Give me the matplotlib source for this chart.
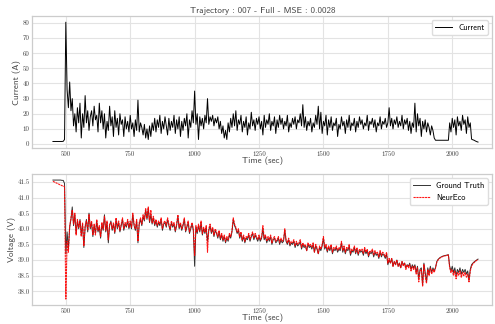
import numpy as np
import matplotlib
matplotlib.use('Agg')
import matplotlib.pyplot as plt

# time axis (sec), one sample every 5 s
time = np.arange(450, 2101, 5)

# battery current (A)
current = [
    1.7, 1.7, 1.7, 1.7, 1.7, 1.7, 1.7, 1.7, 1.8, 3.0, 80.5, 36, 24, 41, 22, 30, 12, 20, 8, 24,
    14, 27, 4, 20, 11, 32, 14, 22, 9, 18, 22, 12, 25, 16, 19, 8, 27, 14, 22, 10,
    20, 4, 15, 9, 25, 12, 18, 5, 22, 11, 17, 6, 20, 13, 16, 5, 18, 10, 15, 8,
    19, 10, 14, 5, 16, 9, 29, 8, 14, 11, 6, 13, 4, 10, 3, 12, 5, 14, 9, 17,
    8, 16, 11, 19, 7, 15, 10, 18, 12, 6, 17, 9, 15, 11, 19, 7, 16, 10, 18, 5,
    15, 9, 17, 12, 20, 4, 16, 11, 22, 14, 35, 13, 20, 3, 18, 12, 17, 10, 19, 14,
    30, 13, 18, 15, 19, 12, 17, 14, 18, 10, 15, 7, 12, 4, 9, 3, 14, 8, 17, 11,
    20, 12, 22, 9, 16, 13, 19, 8, 15, 11, 18, 6, 14, 10, 21, 12, 16, 9, 17, 13,
    18, 10, 15, 6, 19, 11, 16, 13, 20, 9, 15, 12, 18, 7, 16, 11, 19, 13, 17, 10,
    15, 12, 19, 8, 14, 11, 17, 13, 18, 10, 16, 14, 20, 12, 26, 11, 18, 9, 15, 12,
    17, 8, 14, 11, 19, 13, 25, 10, 21, 7, 15, 12, 19, 6, 16, 11, 18, 9, 14, 12,
    17, 5, 13, 10, 18, 12, 15, 7, 16, 11, 19, 9, 14, 12, 17, 8, 15, 11, 18, 13,
    16, 10, 14, 12, 19, 9, 15, 13, 17, 11, 16, 8, 14, 12, 18, 10, 15, 13, 17, 11,
    14, 24, 12, 17, 10, 16, 13, 18, 11, 15, 12, 19, 10, 16, 13, 17, 9, 15, 7, 14,
    11, 27, 8, 20, 12, 17, 5, 15, 10, 16, 8, 14, 11, 6, 12, 9, 4, 2.5, 2.5, 2.5,
    2.5, 2.5, 2.5, 2.5, 2.5, 2.5, 2.5, 2.5, 14, 8, 17, 11, 16, 6, 18, 12, 15, 9, 19, 13,
    16, 7, 18, 11, 14, 3.2, 2.8, 2.5, 2.0, 1.6, 1.3,
]

# measured voltage (V)
ground_truth = [
    41.56, 41.56, 41.56, 41.56, 41.56, 41.56, 41.56, 41.55, 41.55, 41.45, 39.2, 39.9, 39.35, 40.05, 40.3, 40.7, 40.1, 40.45, 39.85, 40.25,
    40.0, 40.3, 39.8, 40.15, 39.4, 40.05, 40.3, 39.9, 40.5, 40.0, 40.2, 39.75, 40.1, 39.85, 40.25, 39.9, 40.05, 39.7, 40.15, 39.95,
    40.45, 39.9, 40.2, 39.55, 40.1, 40.25, 39.95, 40.15, 39.85, 40.3, 40.0, 40.2, 39.9, 40.1, 40.3, 39.95, 40.15, 40.05, 40.25, 40.0,
    40.2, 40.0, 40.45, 40.1, 39.95, 40.25, 39.55, 40.15, 40.3, 40.1, 40.4, 40.25, 40.6, 40.3, 40.65, 40.2, 40.45, 40.15, 40.35, 40.1,
    40.25, 40.05, 40.2, 40.1, 40.3, 39.95, 40.15, 40.2, 40.05, 40.3, 40.1, 39.95, 40.2, 40.05, 40.15, 39.9, 40.1, 40.4, 40.0, 40.15,
    39.95, 40.1, 40.3, 39.9, 40.05, 40.2, 39.85, 40.0, 40.15, 39.95, 38.8, 40.05, 39.85, 40.1, 39.9, 40.2, 39.8, 40.0, 39.85, 40.05,
    39.6, 39.95, 40.1, 39.85, 40.0, 39.75, 39.95, 39.85, 39.7, 39.9, 39.65, 39.8, 39.6, 39.75, 39.55, 39.7, 39.6, 39.8, 39.7, 39.9,
    40.3, 40.1, 40.0, 39.85, 39.95, 39.7, 39.85, 39.6, 39.75, 39.55, 39.7, 39.65, 39.8, 39.6, 39.75, 39.85, 39.65, 39.8, 39.7, 39.6,
    39.75, 39.6, 39.7, 40.0, 39.65, 39.75, 39.55, 39.7, 39.6, 39.75, 39.5, 39.65, 39.7, 39.55, 39.6, 39.7, 39.5, 39.65, 39.55, 39.6,
    39.95, 39.6, 39.5, 39.65, 39.45, 39.55, 39.5, 39.6, 39.4, 39.55, 39.45, 39.5, 39.6, 39.35, 39.5, 39.4, 39.45, 39.3, 39.5, 39.4,
    39.45, 39.35, 39.5, 39.25, 39.45, 39.35, 39.2, 39.4, 39.3, 39.45, 39.7, 39.35, 39.45, 39.25, 39.4, 39.3, 39.45, 39.2, 39.35, 39.3,
    39.4, 39.25, 39.35, 39.3, 39.55, 39.25, 39.4, 39.2, 39.35, 39.3, 39.45, 39.15, 39.3, 39.25, 39.4, 39.2, 39.35, 39.15, 39.3, 39.25,
    39.3, 39.15, 39.35, 39.2, 39.3, 39.1, 39.25, 39.2, 39.3, 39.1, 39.25, 39.15, 39.2, 39.05, 39.25, 39.1, 39.2, 39.15, 39.05, 39.2,
    38.85, 39.0, 38.9, 39.05, 38.8, 38.95, 38.85, 39.0, 38.8, 38.9, 38.75, 38.95, 38.85, 38.9, 38.75, 38.85, 38.8, 38.9, 38.7, 38.85,
    38.75, 38.85, 38.6, 38.8, 38.4, 38.7, 38.75, 38.2, 38.9, 38.6, 38.3, 38.75, 38.55, 38.8, 38.6, 38.75, 38.65, 38.75, 38.95, 39.02,
    39.06, 39.09, 39.11, 39.13, 39.14, 39.15, 39.16, 39.17, 38.8, 38.65, 38.8, 38.6, 38.75, 38.5, 38.7, 38.6, 38.75, 38.55, 38.7, 38.6,
    38.7, 38.55, 38.65, 38.35, 38.7, 38.85, 38.9, 38.94, 38.97, 39.0, 39.03,
]

# model prediction (V)
neureco = [
    41.52, 41.50, 41.48, 41.46, 41.44, 41.42, 41.40, 41.38, 41.37, 41.35, 37.75, 39.6, 39.25, 40.1, 40.35, 40.6, 40.15, 40.5, 39.8, 40.3,
    40.05, 40.25, 39.75, 40.2, 39.45, 40.1, 40.25, 39.95, 40.45, 40.05, 40.25, 39.8, 40.15, 39.8, 40.3, 39.95, 40.1, 39.75, 40.2, 40.0,
    40.4, 39.95, 40.25, 39.65, 40.15, 40.2, 40.0, 40.2, 39.9, 40.35, 40.05, 40.25, 39.95, 40.15, 40.35, 40.0, 40.2, 40.1, 40.3, 40.05,
    40.25, 40.05, 40.5, 40.15, 40.0, 40.3, 39.6, 40.2, 40.35, 40.15, 40.45, 40.3, 40.65, 40.35, 40.7, 40.25, 40.6, 40.2, 40.4, 40.15,
    40.3, 40.1, 40.25, 40.15, 40.35, 40.0, 40.2, 40.25, 40.1, 40.35, 40.15, 40.0, 40.25, 40.1, 40.2, 39.95, 40.15, 40.45, 40.05, 40.2,
    40.0, 40.15, 40.35, 39.95, 40.1, 40.25, 39.9, 40.05, 40.2, 40.0, 39.15, 40.1, 39.9, 40.15, 39.95, 40.25, 39.85, 40.05, 39.9, 40.1,
    39.25, 40.0, 40.15, 39.9, 40.05, 39.8, 40.0, 39.9, 39.75, 39.95, 39.7, 39.85, 39.65, 39.8, 39.6, 39.75, 39.65, 39.85, 39.75, 39.95,
    40.35, 40.15, 40.05, 39.9, 40.0, 39.75, 39.9, 39.65, 39.8, 39.6, 39.75, 39.7, 39.85, 39.65, 39.8, 39.9, 39.7, 39.85, 39.75, 39.65,
    39.8, 39.65, 39.75, 40.1, 39.7, 39.8, 39.6, 39.75, 39.65, 39.8, 39.55, 39.7, 39.75, 39.6, 39.65, 39.75, 39.55, 39.7, 39.6, 39.65,
    40.0, 39.65, 39.55, 39.7, 39.5, 39.6, 39.55, 39.65, 39.45, 39.6, 39.5, 39.55, 39.65, 39.4, 39.55, 39.45, 39.5, 39.3, 39.55, 39.45,
    39.5, 39.4, 39.55, 39.25, 39.5, 39.4, 39.2, 39.45, 39.35, 39.5, 39.75, 39.4, 39.5, 39.3, 39.45, 39.35, 39.5, 39.25, 39.4, 39.35,
    39.45, 39.3, 39.4, 39.35, 39.6, 39.3, 39.45, 39.25, 39.4, 39.35, 39.5, 39.2, 39.35, 39.3, 39.45, 39.25, 39.4, 39.2, 39.35, 39.3,
    39.35, 39.2, 39.4, 39.25, 39.35, 39.15, 39.3, 39.25, 39.35, 39.15, 39.3, 39.2, 39.25, 39.1, 39.3, 39.15, 39.25, 39.2, 39.1, 39.25,
    38.9, 39.05, 38.9, 39.05, 38.8, 38.95, 38.85, 39.0, 38.8, 38.9, 38.75, 38.95, 38.8, 38.9, 38.7, 38.85, 38.75, 38.85, 38.65, 38.8,
    38.7, 38.8, 38.55, 38.75, 38.3, 38.65, 38.7, 38.15, 38.85, 38.5, 38.25, 38.7, 38.5, 38.75, 38.55, 38.7, 38.6, 38.75, 38.93, 39.0,
    39.05, 39.08, 39.1, 39.12, 39.13, 39.14, 39.15, 39.16, 38.75, 38.6, 38.7, 38.5, 38.65, 38.4, 38.6, 38.5, 38.65, 38.45, 38.6, 38.5,
    38.6, 38.45, 38.55, 38.3, 38.65, 38.8, 38.88, 38.92, 38.96, 38.99, 39.02,
]

title = 'Trajectory : 007 - Full - MSE : 0.0028'

plt.rcParams['font.family'] = ['cmss10', 'DejaVu Sans']
plt.rcParams['axes.unicode_minus'] = False

fig = plt.figure(figsize=(4.95, 3.24), dpi=100)
ax1 = fig.add_axes([0.0653, 0.543, 0.929, 0.407])
ax2 = fig.add_axes([0.0653, 0.0586, 0.929, 0.404])

ax1.plot(time, current, color='black', lw=0.7, label='Current')
ax2.plot(time, ground_truth, color='black', lw=0.7, alpha=0.8, label='Ground Truth')
ax2.plot(time, neureco, color='red', lw=0.8, ls='--', dashes=(2, 0.6), alpha=0.9, label='NeurEco')

ax1.set_title(title, fontsize=6.5, color='#444444', pad=2)
ax1.set_ylabel('Current (A)', fontsize=6.5, color='#444444', labelpad=1)
ax2.set_ylabel('Voltage (V)', fontsize=6.5, color='#444444', labelpad=1)
for ax in (ax1, ax2):
    ax.set_xlabel('Time (sec)', fontsize=6.5, color='#444444', labelpad=0)
    ax.set_xlim(370, 2155)
    ax.set_xticks([500, 750, 1000, 1250, 1500, 1750, 2000])
    ax.grid(True, color='#e3e3e3', lw=0.8)
    ax.set_axisbelow(True)
    for s in ax.spines.values():
        s.set_color('#cccccc')
        s.set_linewidth(0.9)
    ax.tick_params(length=0, pad=2, labelsize=5, labelcolor='#444444')

ax1.set_yticks(range(0, 81, 10))
ax2.set_yticks([38.0, 38.5, 39.0, 39.5, 40.0, 40.5, 41.0, 41.5])
ax2.set_yticklabels(['38.0', '38.5', '39.0', '39.5', '40.0', '40.5', '41.0', '41.5'])
for ax in (ax1, ax2):
    for lab in ax.get_xticklabels() + ax.get_yticklabels():
        lab.set_family('cmr10')

ax1.legend(loc='upper right', fontsize=6, edgecolor='#dddddd', framealpha=1)
ax2.legend(loc='upper right', fontsize=6, edgecolor='#dddddd', framealpha=1)

fig.savefig('out.png', dpi=100)
